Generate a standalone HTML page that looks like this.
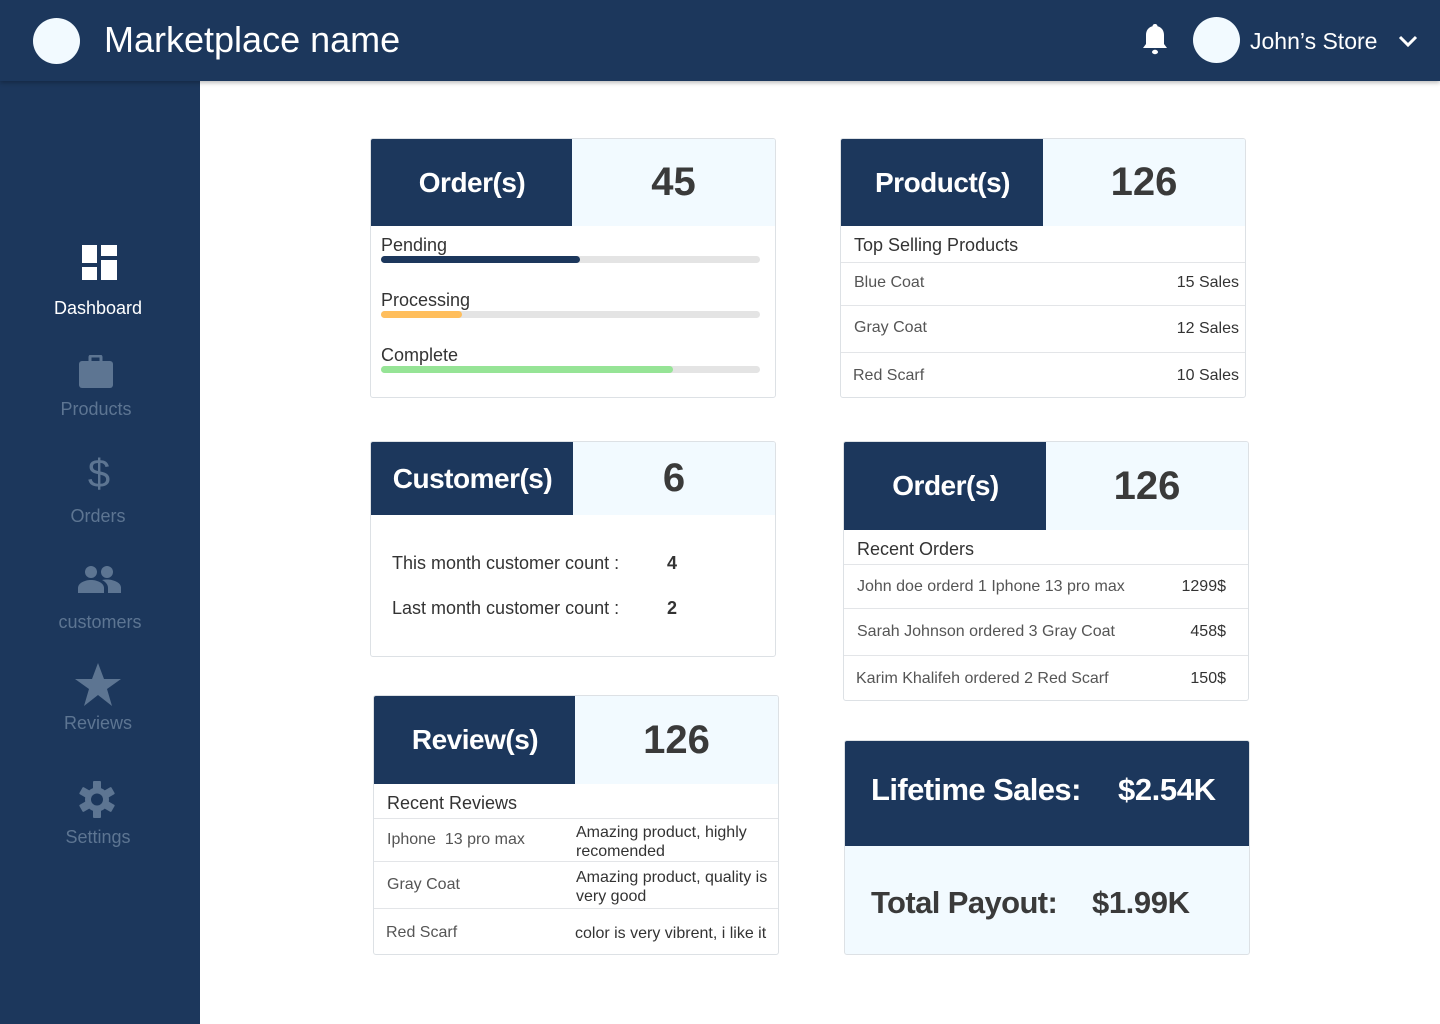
<!DOCTYPE html>
<html><head><meta charset="utf-8">
<style>
*{margin:0;padding:0;box-sizing:border-box}
body{width:1440px;height:1024px;position:relative;overflow:hidden;background:#fff;font-family:"Liberation Sans",sans-serif;color:#333}
.a{position:absolute}
.nav{background:#1c375c}
.t{position:absolute;white-space:nowrap;line-height:1}
.card{position:absolute;border:1px solid #dde1e5;border-radius:3px;background:#fff;overflow:hidden}
.hd{position:absolute;left:0;top:0;background:#1c375c;color:#fff;font-weight:bold;font-size:28px;letter-spacing:-0.5px;display:flex;align-items:center;justify-content:center}
.hv{position:absolute;top:0;right:0;background:#f2faff;color:#3a3a3a;font-weight:bold;font-size:40px;display:flex;align-items:center;justify-content:center}
.line{position:absolute;left:0;right:0;height:1px;background:#e3e5e8}
.si{position:absolute;left:0;width:200px;text-align:center;font-size:18px;color:#5d7592}
</style></head><body>
<div class="a nav" style="left:0;top:0;width:1440px;height:81px;box-shadow:0 2px 4px rgba(0,0,0,.25);z-index:2">
  <div class="a" style="left:33px;top:18px;width:47px;height:46px;border-radius:50%;background:#f2faff"></div>
  <div class="t" style="left:104px;top:22px;font-size:36px;color:#fff">Marketplace name</div>
  <svg class="a" style="left:1140px;top:22px" width="30" height="36" viewBox="0 0 30 36"><path d="M15 2c-1.5 0-2.5 1-2.5 2.3C8 5.5 6 9 6 13v9l-3 4h24l-3-4v-9c0-4-2-7.5-6.5-8.7C17.5 3 16.5 2 15 2z" fill="#fff"/><ellipse cx="15" cy="30" rx="3" ry="2.2" fill="#fff"/></svg>
  <div class="a" style="left:1193px;top:17px;width:47px;height:46px;border-radius:50%;background:#f2faff"></div>
  <div class="t" style="left:1250px;top:30px;font-size:23px;color:#fff">John’s Store</div>
  <svg class="a" style="left:1398px;top:34px" width="20" height="14" viewBox="0 0 20 14"><path d="M2 3l8 8 8-8" stroke="#fff" stroke-width="3" fill="none"/></svg>
</div>
<div class="a nav" style="left:0;top:81px;width:200px;height:943px">
</div>
<svg class="a" style="left:82px;top:245px" width="35" height="35" viewBox="0 0 35 35"><rect x="0" y="0" width="15" height="18" fill="#fff"/><rect x="19" y="0" width="16" height="11" fill="#fff"/><rect x="0" y="22" width="15" height="13" fill="#fff"/><rect x="19" y="15" width="16" height="20" fill="#fff"/></svg>
<div class="si" style="top:298px;color:#fff;left:-2px">Dashboard</div>
<svg class="a" style="left:79px;top:355px" width="34" height="33" viewBox="0 0 34 33"><rect x="11" y="1" width="11" height="7" rx="1" fill="none" stroke="#5d7592" stroke-width="3"/><rect x="0" y="6" width="34" height="27" rx="3" fill="#5d7592"/></svg>
<div class="si" style="top:399px;left:-4px">Products</div>
<div class="si" style="top:452px;font-size:40px;left:-1px">$</div>
<div class="si" style="top:506px;left:-2px">Orders</div>
<svg class="a" style="left:78px;top:565px" width="43" height="28" viewBox="0 0 43 28"><circle cx="13" cy="7" r="6" fill="#5d7592"/><circle cx="29" cy="7" r="6" fill="#5d7592"/><path d="M0 28v-5c0-5 7-8 13-8s13 3 13 8v5z" fill="#5d7592"/><path d="M24 15c2-.5 3.5-.5 5-.5 6 0 14 3 14 8v5.5H30v-5c0-3-2-6-6-8z" fill="#5d7592"/></svg>
<div class="si" style="top:612px">customers</div>
<svg class="a" style="left:75px;top:663px" width="46" height="43" viewBox="0 0 46 43"><path d="M23 0l6 16h17l-14 10 5 17-14-11-14 11 5-17L0 16h17z" fill="#5d7592"/></svg>
<div class="si" style="top:713px;left:-2px">Reviews</div>
<svg class="a" style="left:79px;top:781px" width="36" height="37" viewBox="0 0 36 37"><g fill="#5d7592"><circle cx="18" cy="18.5" r="12"/><rect x="14" y="0" width="8" height="37" rx="1"/><rect x="14" y="0" width="8" height="37" rx="1" transform="rotate(60 18 18.5)"/><rect x="14" y="0" width="8" height="37" rx="1" transform="rotate(120 18 18.5)"/></g><circle cx="18" cy="18.5" r="6" fill="#1c375c"/></svg>
<div class="si" style="top:827px;left:-2px">Settings</div>

<!-- Orders card -->
<div class="card" style="left:370px;top:138px;width:406px;height:260px">
  <div class="hd" style="width:202px;height:87px">Order(s)</div>
  <div class="hv" style="width:203px;height:87px">45</div>
  <div id="bars"></div>
</div>

<!-- Products card -->
<div class="card" style="left:840px;top:138px;width:406px;height:260px">
  <div class="hd" style="width:203px;height:87px">Product(s)</div>
  <div class="hv" style="width:202px;height:87px">126</div>
  <div class="t" style="left:13px;top:97px;font-size:18px">Top Selling Products</div>
  <div class="line" style="top:123px"></div>
  <div class="t" style="left:13px;top:136px;font-size:16px;color:#555">Blue Coat</div>
  <div class="t" style="right:6px;top:136px;font-size:16px">15 Sales</div>
  <div class="line" style="top:166px"></div>
  <div class="t" style="left:13px;top:181px;font-size:16px;color:#555">Gray Coat</div>
  <div class="t" style="right:6px;top:182px;font-size:16px">12 Sales</div>
  <div class="line" style="top:213px"></div>
  <div class="t" style="left:12px;top:229px;font-size:16px;color:#555">Red Scarf</div>
  <div class="t" style="right:6px;top:229px;font-size:16px">10 Sales</div>
</div>

<!-- Customers card -->
<div class="card" style="left:370px;top:441px;width:406px;height:216px">
  <div class="hd" style="width:203px;height:73px">Customer(s)</div>
  <div class="hv" style="width:202px;height:73px">6</div>
  <div class="t" style="left:21px;top:112px;font-size:18px">This month customer count :</div>
  <div class="t" style="left:296px;top:112px;font-size:18px;font-weight:bold">4</div>
  <div class="t" style="left:21px;top:157px;font-size:18px">Last month customer count :</div>
  <div class="t" style="left:296px;top:157px;font-size:18px;font-weight:bold">2</div>
</div>

<!-- Recent orders card -->
<div class="card" style="left:843px;top:441px;width:406px;height:260px">
  <div class="hd" style="width:203px;height:88px">Order(s)</div>
  <div class="hv" style="width:202px;height:88px">126</div>
  <div class="t" style="left:13px;top:98px;font-size:18px">Recent Orders</div>
  <div class="line" style="top:122px"></div>
  <div class="t" style="left:13px;top:137px;font-size:16px;color:#555">John doe orderd 1 Iphone 13 pro max</div>
  <div class="t" style="right:22px;top:137px;font-size:16px">1299$</div>
  <div class="line" style="top:166px"></div>
  <div class="t" style="left:13px;top:182px;font-size:16px;color:#555">Sarah Johnson ordered 3 Gray Coat</div>
  <div class="t" style="right:22px;top:182px;font-size:16px">458$</div>
  <div class="line" style="top:213px"></div>
  <div class="t" style="left:12px;top:229px;font-size:16px;color:#555">Karim Khalifeh ordered 2 Red Scarf</div>
  <div class="t" style="right:22px;top:229px;font-size:16px">150$</div>
</div>

<!-- Reviews card -->
<div class="card" style="left:373px;top:695px;width:406px;height:260px">
  <div class="hd" style="width:202px;height:88px">Review(s)</div>
  <div class="hv" style="width:203px;height:88px">126</div>
  <div class="t" style="left:13px;top:98px;font-size:18px">Recent Reviews</div>
  <div class="line" style="top:122px"></div>
  <div class="t" style="left:13px;top:136px;font-size:16px;color:#555">Iphone&nbsp; 13 pro max</div>
  <div class="t" style="left:202px;top:127px;font-size:16px;line-height:19px;white-space:normal;width:200px">Amazing product, highly recomended</div>
  <div class="line" style="top:165px"></div>
  <div class="t" style="left:13px;top:181px;font-size:16px;color:#555">Gray Coat</div>
  <div class="t" style="left:202px;top:172px;font-size:16px;line-height:19px;white-space:normal;width:200px">Amazing product, quality is very good</div>
  <div class="line" style="top:212px"></div>
  <div class="t" style="left:12px;top:229px;font-size:16px;color:#555">Red Scarf</div>
  <div class="t" style="left:201px;top:230px;font-size:16px">color is very vibrent, i like it</div>
</div>

<!-- Sales card -->
<div class="card" style="left:844px;top:740px;width:406px;height:215px;background:#f2faff">
  <div class="a" style="left:0;top:0;width:406px;height:105px;background:#1c375c"></div>
  <div class="t" style="left:26px;top:33px;font-size:31px;letter-spacing:-0.6px;font-weight:bold;color:#fff">Lifetime Sales:</div>
  <div class="t" style="left:273px;top:33px;font-size:31px;letter-spacing:-0.4px;font-weight:bold;color:#fff">$2.54K</div>
  <div class="t" style="left:26px;top:146px;font-size:31px;letter-spacing:-0.6px;font-weight:bold;color:#3a3a3a">Total Payout:</div>
  <div class="t" style="left:247px;top:146px;font-size:31px;letter-spacing:-0.4px;font-weight:bold;color:#3a3a3a">$1.99K</div>
</div>

<script>
const statusLabels = ["Pending", "Processing", "Complete"];
const statusValues = [52.5, 21.5, 77];
const statusColors = ["#1c375c", "#ffbe5c", "#96e496"];
const box = document.getElementById('bars');
const trackW = 379;
const x = v => v / 100 * trackW;
statusLabels.forEach((lab, i) => {
  const top = 97 + i * 55;
  const l = document.createElement('div');
  l.className = 't';
  l.style.cssText = `left:10px;top:${top}px;font-size:18px`;
  l.textContent = lab;
  
  
  box.appendChild(l);
  const tr = document.createElement('div');
  tr.className = 'a';
  tr.style.cssText = `left:10px;top:${top + 20}px;width:${trackW}px;height:7px;border-radius:4px;background:#e4e4e4`;
  
  
  const f = document.createElement('div');
  f.className = 'a';
  f.style.cssText = `left:0;top:0;height:7px;border-radius:4px;width:${x(statusValues[i])}px;background:${statusColors[i]}`;
  
  
  tr.appendChild(f);
  box.appendChild(tr);
});
</script>
</body></html>
